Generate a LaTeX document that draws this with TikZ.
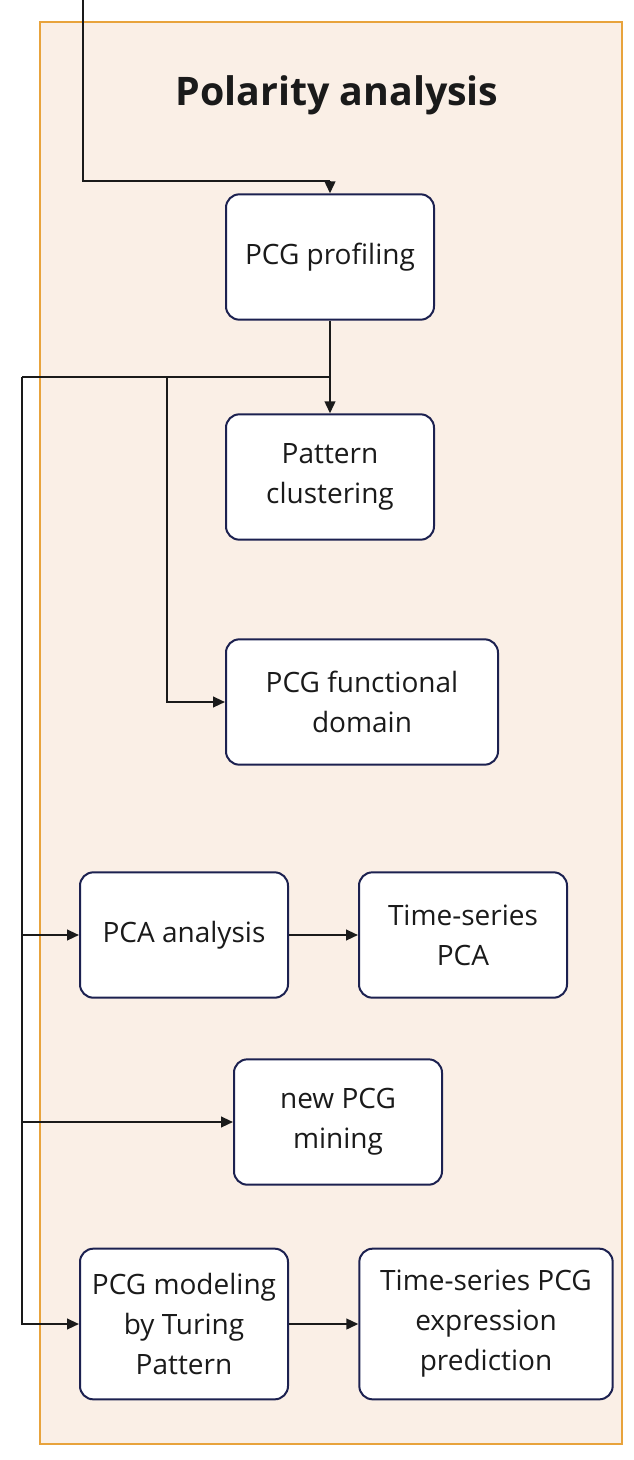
\documentclass[tikz,border=0pt]{standalone}
\usepackage{fontspec}
\setmainfont{Open Sans}
\usetikzlibrary{arrows.meta}
\definecolor{panelfill}{HTML}{FAEFE6}
\definecolor{panelline}{HTML}{E8A33C}
\definecolor{boxline}{HTML}{1C2150}
\definecolor{ink}{HTML}{1A1A1A}
\tikzset{
  stage/.style={draw=boxline, line width=1.5pt, fill=white, rounded corners=10pt,
    align=center, font=\fontsize{21}{30}\selectfont, text=ink,
    minimum width=156pt, minimum height=94pt, inner sep=2pt},
  link/.style={draw=ink, line width=1.6pt},
  arr/.style={link, -{Triangle[length=9pt,width=8pt]}}
}
\begin{document}
\begin{tikzpicture}[x=0.75pt, y=-0.75pt]
    % Canvas and panel
    \useasboundingbox (0,0) rectangle (634,1460);
    \draw[panelline, fill=panelfill, line width=1.6pt] (40,22) rectangle (622,1444);
    \node[font=\fontsize{29.5}{34}\bfseries, text=ink] (title) at (337,95) {Polarity analysis};

    % Stages
    \node[stage] (prof) at (330,257) {PCG profiling};
    \node[stage] (clust) at (330,477) {Pattern\\clustering};
    \node[stage, minimum width=204pt] (func) at (362,702) {PCG functional\\domain};
    \node[stage] (pca) at (184,935) {PCA analysis};
    \node[stage] (tspca) at (463,935) {Time-series\\PCA};
    \node[stage] (mining) at (338,1122) {new PCG\\mining};
    \node[stage, minimum height=113pt] (turing) at (184,1324) {PCG modeling\\by Turing\\Pattern};
    \node[stage, minimum width=190pt, minimum height=113pt] (pred) at (486,1324) {Time-series PCG\\expression\\prediction};

    % Bends of the connectors
    \coordinate (entry) at (83,0);
    \coordinate (bend) at (330,181);
    \coordinate (split) at (330,377);
    \coordinate (busM) at (167,377);
    \coordinate (busL) at (22,377);

    % Connectors
    \draw[link] (entry) |- (bend);
    \draw[arr] (bend) -- (prof.north);
    \draw[arr] (prof.south) -- (clust.north);
    \draw[link] (split) -- (busL);
    \draw[arr] (busM) |- (func.west);
    \draw[arr] (busL) |- (pca.west);
    \draw[arr] (busL) |- (mining.west);
    \draw[arr] (busL) |- (turing.west);
    \draw[arr] (pca.east) -- (tspca.west);
    \draw[arr] (turing.east) -- (pred.west);
\end{tikzpicture}
\end{document}
